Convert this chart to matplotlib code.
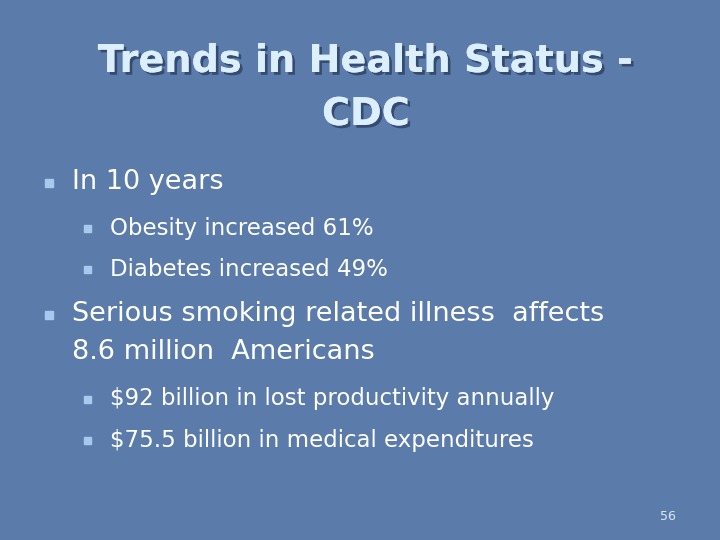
import matplotlib
matplotlib.use("Agg")
import matplotlib.pyplot as plt
import matplotlib.patheffects as pe

title_lines = ["Trends in Health Status -", "CDC"]
level1 = ["In 10 years", "Serious smoking related illness  affects\n8.6 million  Americans"]
level2 = [["Obesity increased 61%", "Diabetes increased 49%"],
          ["$92 billion in lost productivity annually", "$75.5 billion in medical expenditures"]]
page_number = "56"

fig = plt.figure(figsize=(7.2, 5.4), dpi=100)
fig.patch.set_facecolor("#5b7cab")
ax = fig.add_axes([0, 0, 1, 1])
ax.set_xlim(0, 720); ax.set_ylim(540, 0); ax.axis("off")

shadow = [pe.withSimplePatchShadow(offset=(2, -2), shadow_rgbFace="#2c3f60", alpha=0.8), pe.Normal()]
tc = "#dcefff"
ax.text(366, 62, title_lines[0], ha="center", va="center", fontsize=27.5, fontweight="bold",
        color=tc, path_effects=shadow)
ax.text(366, 115, title_lines[1], ha="center", va="center", fontsize=27.5, fontweight="bold",
        color=tc, path_effects=shadow)

bc = "#a8c8f0"
txt = "white"
y1 = [183, 315]
y2 = [[228, 269], [399, 440]]
for i, t in enumerate(level1):
    ax.add_patch(plt.Rectangle((45, y1[i] - 4), 8, 8, color=bc))
    ax.text(72, y1[i] - 14, t, ha="left", va="top", fontsize=19.5, color=txt, linespacing=1.6)
    for j, s in enumerate(level2[i]):
        ax.add_patch(plt.Rectangle((84, y2[i][j] - 3), 7, 7, color=bc))
        ax.text(110, y2[i][j], s, ha="left", va="center", fontsize=16.5, color=txt)

ax.text(668, 516, page_number, ha="center", va="center", fontsize=9, color="#dde8f5")
fig.savefig("out.png", dpi=100, facecolor=fig.get_facecolor())
